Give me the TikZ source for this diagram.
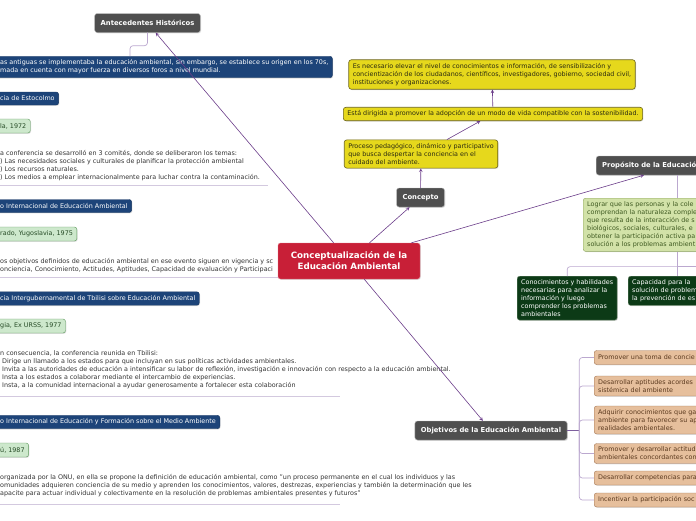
\documentclass[tikz,border=0pt]{standalone}
\usepackage{fontspec}
\setmainfont{DejaVu Sans}
\usetikzlibrary{arrows,shadows}

\definecolor{topicgray}{HTML}{4F4F4F}
\definecolor{mainred}{HTML}{C81F37}
\definecolor{eventblue}{HTML}{1D4479}
\definecolor{datefill}{HTML}{CDE8CC}
\definecolor{datedraw}{HTML}{5F9A5E}
\definecolor{datetext}{HTML}{254A25}
\definecolor{notetext}{HTML}{333333}
\definecolor{ideafill}{HTML}{E6D81C}
\definecolor{ideadraw}{HTML}{6C6418}
\definecolor{ideatext}{HTML}{2B2B10}
\definecolor{purposefill}{HTML}{D2E2A8}
\definecolor{purposedraw}{HTML}{8FA661}
\definecolor{purposetext}{HTML}{3F5A21}
\definecolor{skillfill}{HTML}{0C3A16}
\definecolor{skilldraw}{HTML}{6E8A6E}
\definecolor{goalfill}{HTML}{E6BF9C}
\definecolor{goaldraw}{HTML}{A27452}
\definecolor{goaltext}{HTML}{5B3A1F}
\definecolor{linkcolor}{HTML}{6B3D8A}
\definecolor{branchcolor}{HTML}{BBA8CF}
\definecolor{spinecolor}{HTML}{7E5F9E}
\definecolor{rulecolor}{HTML}{D3C9DF}

\tikzset{
  box/.style={rounded corners=2.5pt, inner xsep=4pt, inner ysep=3.5pt, align=left,
    font=\fontsize{6.4}{8}\selectfont,
    drop shadow={opacity=.25, shadow xshift=.8pt, shadow yshift=-.8pt}},
  topic/.style={box, draw=gray!55, fill=topicgray, text=white, inner xsep=6pt,
    minimum height=19pt, font=\bfseries\fontsize{6.8}{8}\selectfont},
  main/.style={box, draw=mainred!60!white, fill=mainred, text=white, align=center,
    minimum width=142pt, minimum height=36pt, font=\bfseries\fontsize{8.7}{11}\selectfont},
  event/.style={box, anchor=west, draw=eventblue!80!black, fill=eventblue, text=white, minimum height=13pt},
  date/.style={box, anchor=west, draw=datedraw, fill=datefill, text=datetext, minimum height=14pt},
  note/.style={anchor=north west, align=left, inner sep=0pt, text=notetext, font=\fontsize{6.4}{8}\selectfont},
  idea/.style={box, draw=ideadraw, line width=.6pt, fill=ideafill, text=ideatext},
  purpose/.style={box, draw=purposedraw, fill=purposefill, text=purposetext},
  skill/.style={box, draw=skilldraw, fill=skillfill, text=white},
  goal/.style={box, anchor=west, draw=goaldraw, fill=goalfill, text=goaltext,
    text width=130pt, minimum height=14pt},
  branch/.style={draw=branchcolor, line width=.7pt, rounded corners=3pt},
  spine/.style={draw=spinecolor, line width=1.6pt},
  rule/.style={draw=rulecolor, line width=1.2pt}
}

\begin{document}
\begin{tikzpicture}[x=1pt,y=-1pt]
  \useasboundingbox (0,0) rectangle (696,520);

  % columna de antecedentes
  \node[event] (origen) at (-4,67) {as antiguas se implementaba la educación ambiental, sin embargo, se establece su origen en los 70s,\\mada en cuenta con mayor fuerza en diversos foros a nivel mundial.};
  \node[event] (estocolmo) at (-4,98.5) {cia de Estocolmo};
  \node[date] (fecha1) at (-4,126) {la, 1972};
  \node[note] (temas1) at (0,150) {a conferencia se desarrolló en 3 comités, donde se deliberaron los temas:\\) Las necesidades sociales y culturales de planificar la protección ambiental\\) Los recursos naturales.\\) Los medios a emplear internacionalmente para luchar contra la contaminación.};
  \node[event] (belgrado) at (-4,206) {o Internacional de Educación Ambiental};
  \node[date] (fecha2) at (-4,234) {rado, Yugoslavia, 1975};
  \node[note] (temas2) at (0,258) {os objetivos definidos de educación ambiental en ese evento siguen en vigencia y sc\\onciencia, Conocimiento, Actitudes, Aptitudes, Capacidad de evaluación y Participaci};
  \node[event] (tbilisi) at (-4,298.5) {cia Intergubernamental de Tbilisi sobre Educación Ambiental};
  \node[date] (fecha3) at (-4,326) {gia, Ex URSS, 1977};
  \node[note] (temas3) at (0,350) {n consecuencia, la conferencia reunida en Tbilisi:\\\hspace{2pt}Dirige un llamado a los estados para que incluyan en sus políticas actividades ambientales.\\\hspace{2pt}Invita a las autoridades de educación a intensificar su labor de reflexión, investigación e innovación con respecto a la educación ambiental.\\\hspace{2pt}Insta a los estados a colaborar mediante el intercambio de experiencias.\\\hspace{2pt}Insta, a la comunidad internacional a ayudar generosamente a fortalecer esta colaboración};
  \node[event] (moscu) at (-4,422) {o Internacional de Educación y Formación sobre el Medio Ambiente};
  \node[date] (fecha4) at (-4,450) {ú, 1987};
  \node[note] (temas4) at (0,474) {organizada por la ONU, en ella se propone la definición de educación ambiental, como "un proceso permanente en el cual los individuos y las\\omunidades adquieren conciencia de su medio y aprenden los conocimientos, valores, destrezas, experiencias y también la determinación que les\\apacite para actuar individual y colectivamente en la resolución de problemas ambientales presentes y futuros"};

  \draw[rule] (temas1.south west) ++(0,5) -- ++(268,0);
  \draw[rule] (temas2.south west) ++(0,5) -- ++(280,0);
  \draw[rule] (temas3.south west) ++(0,8) -- ++(340,0);
  \draw[rule] (temas4.south west) ++(0,8) -- ++(340,0);

  \node[topic] (ante) at (147.5,23) {Antecedentes Históricos};
  \path (origen.north west) ++(134,0) coordinate (antejoin);
  \draw[branch] (ante.south) -- ++(0,13) -| (antejoin);

  % centro
  \node[main] (main) at (349,261) {Conceptualización de la\\Educación Ambiental};

  % concepto
  \node[topic] (concepto) at (420.5,197.5) {Concepto};
  \node[idea] (idea1) at (421,154) {Proceso pedagógico, dinámico y participativo\\que busca despertar la conciencia en el\\cuidado del ambiente.};
  \node[idea] (idea2) at (493,114) {Está dirigida a promover la adopción de un modo de vida compatible con la sostenibilidad.};
  \node[idea] (idea3) at (492,74.5) {Es necesario elevar el nivel de conocimientos e información, de sensibilización y\\concientización de los ciudadanos, científicos, investigadores, gobierno, sociedad civil,\\instituciones y organizaciones.};

  % proposito
  \node[topic, anchor=west, text width=150pt] (proposito) at (596,165.5) {Propósito de la Educació};
  \node[purpose, anchor=north west, text width=180pt] (meta) at (583,198) {Lograr que las personas y la cole\\comprendan la naturaleza comple\\que resulta de la interacción de s\\biológicos, sociales, culturales, e\\obtener la participación activa pa\\solución a los problemas ambient};
  \node[skill, anchor=north west] (skill1) at (517,276) {Conocimientos y habilidades\\necesarias para analizar la\\información y luego\\comprender los problemas\\ambientales};
  \node[skill, anchor=north west, text width=90pt] (skill2) at (628,276) {Capacidad para la\\solución de problem\\la prevención de es};
  \draw[branch] (proposito) -- (meta);
  \draw[branch] (meta.south) -- ++(0,15) coordinate (fork);
  \path (fork) ++(60,0) coordinate (more);
  \draw[branch] (fork) -| (skill1.north);
  \draw[branch] (fork) -- (skill2.north);
  \draw[branch] (fork) -- (more);

  % objetivos
  \node[topic] (objetivos) at (491,430.5) {Objetivos de la Educación Ambiental};
  \node[goal] (goal1) at (594,357.5) {Promover una toma de concie};
  \node[goal] (goal2) at (594,386) {Desarrollar aptitudes acordes\\sistémica del ambiente};
  \node[goal] (goal3) at (594,420) {Adquirir conocimientos que ga\\ambiente para favorecer su ap\\realidades ambientales.};
  \node[goal] (goal4) at (594,453.5) {Promover y desarrollar actitud\\ambientales concordantes con};
  \node[goal] (goal5) at (594,478) {Desarrollar competencias para};
  \node[goal] (goal6) at (594,500) {Incentivar la participación soc};
  \draw[spine] (objetivos.east) -- ++(12,0) coordinate (hub);
  \foreach \g in {goal1,goal2,goal3,goal4,goal5,goal6}
    \draw[branch] (hub) |- (\g.west);

  % enlaces desde el centro
  \begin{scope}[every path/.style={draw=linkcolor, line width=.6pt, ->, >=stealth}]
    \path (main) edge (ante);
    \path (main) edge (concepto);
    \path (concepto) edge (idea1);
    \path (idea1) edge (idea2);
    \path (idea2) edge (idea3);
    \path (main) edge (proposito);
    \path (main) edge (objetivos);
  \end{scope}
\end{tikzpicture}
\end{document}
